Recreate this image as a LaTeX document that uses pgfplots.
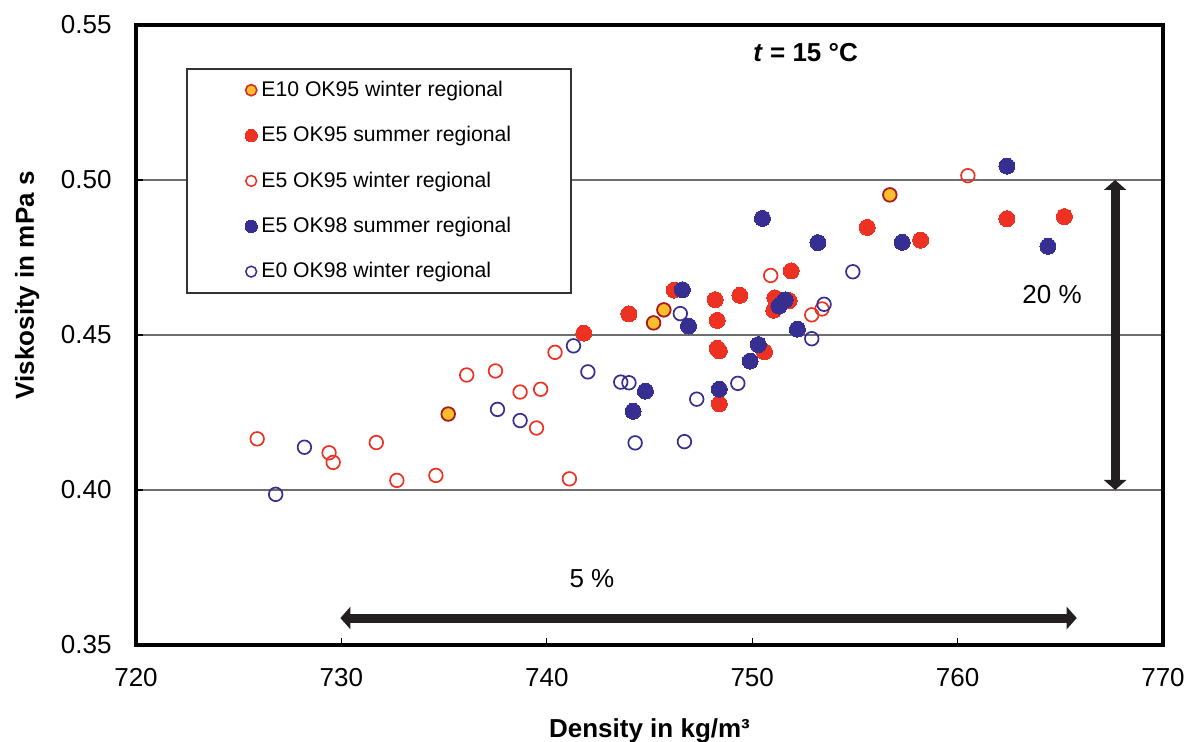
\documentclass[border=0pt]{standalone}
\usepackage{pgfplots}
\pgfplotsset{compat=1.18}
\usepackage{fontspec}
\setmainfont{Liberation Sans}
\usetikzlibrary{arrows.meta}
\definecolor{myred}{RGB}{237,50,36}
\definecolor{myblue}{RGB}{54,46,145}
\definecolor{mygold}{RGB}{251,191,45}
\definecolor{edgered}{RGB}{170,24,32}
\definecolor{arrowblack}{RGB}{35,31,32}
\definecolor{gridgray}{RGB}{110,110,110}
\begin{document}
\begin{tikzpicture}
\begin{axis}[
  scale only axis, width=513.5pt, height=310pt,
  xmin=720, xmax=770, ymin=0.35, ymax=0.55,
  xtick={720,730,740,750,760,770},
  ytick={0.35,0.40,0.45,0.50,0.55},
  /pgf/number format/assume math mode=true,
  yticklabel style={/pgf/number format/.cd, fixed, fixed zerofill, precision=2, /tikz/.cd, inner sep=0pt, anchor=east, xshift=-12pt},
  xticklabel style={/pgf/number format/1000 sep={}, inner sep=0pt, anchor=north, yshift=-11.4pt},
  tick label style={font=\fontsize{13}{15}\selectfont},
  tick align=inside, xtick pos=left, ytick pos=left,
  major tick length=3.5pt,
  tick style={line width=0.6pt, color=black},
  axis line style={line width=1.7pt, color=black},
  ymajorgrids, grid style={line width=0.8pt, color=gridgray},
  xlabel={Density in kg/m³},
  ylabel={Viskosity in mPa s},
  label style={font=\bfseries\fontsize{13}{15}\selectfont},
  xlabel style={at={(axis description cs:0.5,0)}, anchor=base, yshift=-46.5pt},
  ylabel style={at={(axis description cs:-0.106,0.58)}, anchor=center},
  legend cell align=left,
  legend style={at={(0.0487,0.9306)}, anchor=north west, draw=black!80, line width=1pt, fill=white,
    inner xsep=29pt, inner ysep=4pt, row sep=9.5pt, column sep=1pt,
    font=\fontsize{10.6}{12}\selectfont, nodes={inner xsep=1pt}},
]
% E10 OK95 winter regional
\addplot[only marks, mark=*, mark size=3.4pt, mark options={draw=edgered, fill=mygold, line width=0.9pt},
  legend image code/.code={\draw[mark=*, mark size=2.8pt, mark options={draw=myred!90!black, fill=mygold, line width=0.8pt}] plot coordinates {(0cm,0cm)};}]
coordinates {(735.2,0.4245) (745.2,0.4539) (745.7,0.4581) (756.7,0.4952)};
\addlegendentry{E10 OK95 winter regional}
% E5 OK95 summer regional
\addplot[only marks, mark=*, mark size=4pt, mark options={draw=myred, fill=myred, line width=0pt},
  legend image code/.code={\draw[mark=*, mark size=3.1pt, mark options={draw=myred, fill=myred, line width=0pt}] plot coordinates {(0cm,0cm)};}]
coordinates {(741.8,0.4506) (744.0,0.4568) (746.2,0.4645) (748.2,0.4614) (748.3,0.4547)
 (749.4,0.4628) (748.3,0.4457) (748.4,0.4449) (750.6,0.4446) (751.9,0.4707) (751.1,0.4620)
 (751.05,0.4580) (751.8,0.4611) (748.4,0.4278) (755.6,0.4847) (758.2,0.4806) (762.4,0.4875) (765.2,0.4882)};
\addlegendentry{E5 OK95 summer regional}
% E5 OK95 winter regional
\addplot[only marks, mark=o, mark size=3.4pt, mark options={draw=myred, line width=0.85pt},
  legend image code/.code={\draw[mark=o, mark size=2.7pt, mark options={draw=myred, line width=0.75pt}] plot coordinates {(0cm,0cm)};}]
coordinates {(725.9,0.4165) (729.4,0.4120) (729.6,0.4089) (731.7,0.4153) (732.7,0.4031)
 (734.6,0.4047) (736.1,0.4371) (737.5,0.4384) (738.7,0.4316) (739.7,0.4325) (739.5,0.4200)
 (740.4,0.4444) (741.1,0.4036) (750.9,0.4692) (752.9,0.4565) (753.4,0.4584) (760.5,0.5014)};
\addlegendentry{E5 OK95 winter regional}
% E5 OK98 summer regional
\addplot[only marks, mark=*, mark size=4pt, mark options={draw=myblue, fill=myblue, line width=0pt},
  legend image code/.code={\draw[mark=*, mark size=3.1pt, mark options={draw=myblue, fill=myblue, line width=0pt}] plot coordinates {(0cm,0cm)};}]
coordinates {(746.6,0.4646) (746.9,0.4529) (750.3,0.4469) (749.9,0.4416) (751.3,0.4593)
 (751.6,0.4613) (752.2,0.4519) (744.8,0.4319) (744.2,0.4254) (748.4,0.4325) (750.5,0.4876)
 (753.2,0.4798) (757.3,0.4799) (762.4,0.5045) (764.4,0.4786)};
\addlegendentry{E5 OK98 summer regional}
% E0 OK98 winter regional
\addplot[only marks, mark=o, mark size=3.4pt, mark options={draw=myblue, line width=0.85pt},
  legend image code/.code={\draw[mark=o, mark size=2.7pt, mark options={draw=myblue, line width=0.75pt}] plot coordinates {(0cm,0cm)};}]
coordinates {(726.8,0.3986) (728.2,0.4138) (737.6,0.4260) (738.7,0.4224) (741.3,0.4465)
 (742.0,0.4381) (743.6,0.4348) (744.0,0.4346) (744.3,0.4152) (746.7,0.4156) (747.3,0.4293)
 (749.3,0.4344) (746.5,0.4569) (752.9,0.4488) (753.5,0.4599) (754.9,0.4704)};
\addlegendentry{E0 OK98 winter regional}

\draw[line width=4.5pt, color=arrowblack, {Triangle[width=11pt,length=5pt]}-{Triangle[width=11pt,length=5pt]}]
  (axis cs:767.67,0.40) -- (axis cs:767.67,0.50);
\draw[line width=4.5pt, color=arrowblack, {Triangle[width=11pt,length=5pt]}-{Triangle[width=11pt,length=5pt]}]
  (axis cs:729.95,0.3587) -- (axis cs:765.8,0.3587);
\node[font=\fontsize{13}{15}\selectfont, inner sep=0pt] at (axis cs:742.2,0.3713) {5 \%};
\node[font=\fontsize{13}{15}\selectfont, inner sep=0pt] at (axis cs:764.6,0.4629) {20 \%};
\node[font=\bfseries\fontsize{13}{15}\selectfont, inner sep=0pt] at (axis cs:752.6,0.541) {\textit{t} = 15 °C};
\coordinate (SW) at (rel axis cs:0,0);
\coordinate (NE) at (rel axis cs:1,1);
\end{axis}
\pgfresetboundingbox
\path ([shift={(-68pt,-48.5pt)}]SW) rectangle ([shift={(18pt,12.5pt)}]NE);
\end{tikzpicture}
\end{document}
